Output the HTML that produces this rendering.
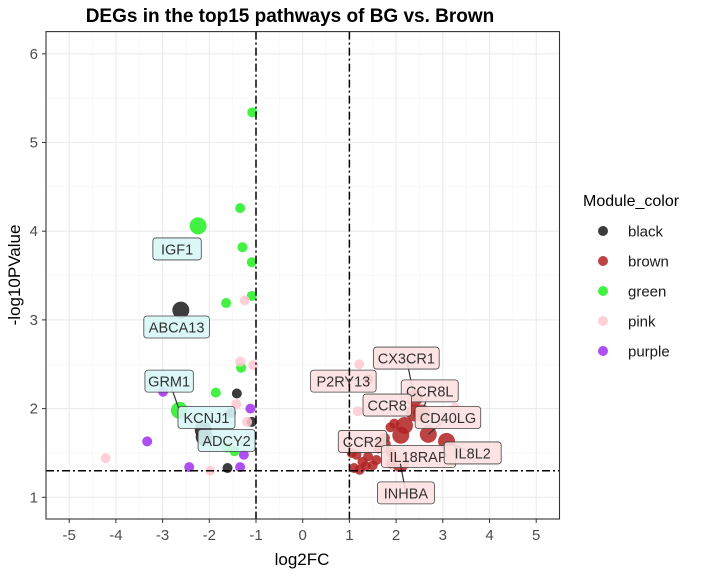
<!DOCTYPE html>
<html><head><meta charset="utf-8"><style>
body{margin:0;background:#fff;font-family:"Liberation Sans",sans-serif}
</style></head><body>
<svg id="c" width="714" height="571" xmlns="http://www.w3.org/2000/svg" font-family="Liberation Sans, sans-serif">
<text x="290" y="22" text-anchor="middle" font-size="19" font-weight="bold" fill="#000">DEGs in the top15 pathways of BG vs. Brown</text>
<g id="grid"></g><g id="pts"></g><g id="labs"></g><g id="axes"></g>
<text x="302" y="565" text-anchor="middle" font-size="17" fill="#000">log2FC</text>
<text transform="translate(20,275) rotate(-90)" text-anchor="middle" font-size="17" fill="#000">-log10PValue</text>
<g id="legend"></g>
</svg>
<script>
const xTicks=[-5,-4,-3,-2,-1,0,1,2,3,4,5];
const yTicks=[1,2,3,4,5,6];
const ptColors=["black","black","black","black","black","black","black","brown","brown","brown","brown","brown","brown","brown","brown","brown","brown","brown","brown","brown","brown","brown","brown","brown","brown","brown","brown","brown","brown","brown","brown","brown","brown","green","green","green","green","green","green","green","green","green","green","green","green","pink","pink","pink","pink","pink","pink","pink","pink","pink","pink","pink","pink","purple","purple","purple","purple","purple","purple"];
const ptX=[-2.61,-2.13,-2.11,-1.41,-1.54,-1.09,-1.61,1.40,2.39,2.40,2.55,2.18,1.88,1.96,2.10,2.69,3.08,1.66,1.78,1.89,2.09,1.88,1.05,1.15,1.28,1.40,1.50,1.58,1.10,1.22,1.35,1.76,1.62,-1.08,-1.34,-2.24,-1.29,-1.09,-1.09,-1.64,-1.32,-1.86,-2.64,-1.46,-1.63,-1.24,-1.34,-1.06,-1.42,-1.19,-1.13,-4.22,-1.98,1.21,3.26,1.18,2.10,-1.12,-3.33,-2.43,-1.34,-2.99,-1.26];
const ptY=[3.11,1.76,1.68,2.17,1.95,1.85,1.33,2.33,2.12,1.95,1.95,1.81,1.79,1.83,1.70,1.71,1.63,1.63,1.60,1.50,1.38,1.38,1.50,1.48,1.40,1.46,1.36,1.42,1.33,1.31,1.35,1.67,1.55,5.34,4.26,4.06,3.82,3.65,3.27,3.19,2.46,2.18,1.98,1.52,1.56,3.22,2.53,2.49,2.05,1.85,1.68,1.44,1.30,2.50,2.01,1.97,1.42,2.00,1.63,1.34,1.34,2.19,1.48];
const ptBig=[1,1,1,0,0,0,0,0,1,1,1,1,0,0,1,1,1,0,0,0,1,0,0,0,0,0,0,0,0,0,0,0,0,0,0,1,0,0,0,0,0,0,1,0,0,0,0,0,0,0,0,0,0,0,0,0,0,0,0,0,0,0,0];
const colorMap={black:"#1a1a1a",brown:"#b22222",green:"#22ee22",pink:"#ffc8d0",purple:"#a030f0"};
const legendItems=["black","brown","green","pink","purple"];
const labNames=["IGF1","ABCA13","GRM1","KCNJ1","ADCY2","CX3CR1","P2RY13","CCR8L","CCR8","CD40LG","CCR2","IL18RAP","IL8L2","INHBA"];
const labX=[-2.69,-2.70,-2.86,-2.06,-1.63,2.22,0.87,2.72,1.81,3.11,1.28,2.48,3.64,2.21];
const labY=[3.80,2.92,2.31,1.90,1.64,2.57,2.31,2.20,2.04,1.90,1.63,1.46,1.50,1.05];
const labSide=["l","l","l","l","l","r","r","r","r","r","r","r","r","r"];
const labLinkX=[null,null,-2.64,-2.13,null,2.39,1.40,2.55,null,2.69,1.76,null,3.08,2.09];
const labLinkY=[null,null,1.98,1.76,null,2.12,2.33,1.95,null,1.71,1.67,null,1.63,1.38];

const L=46,R=559.5,T=31.6,B=519;
const X=v=>302.7+46.7*v, Y=v=>497.3-88.7*(v-1);
const NS="http://www.w3.org/2000/svg";
function mk(tag,attrs,parent){const e=document.createElementNS(NS,tag);for(const k in attrs)e.setAttribute(k,attrs[k]);parent.appendChild(e);return e;}
const g=document.getElementById('grid');
mk('rect',{x:L,y:T,width:R-L,height:B-T,fill:'#fff'},g);
for(let v=-5.5;v<=5.5;v+=0.5){const major=Number.isInteger(v);mk('line',{x1:X(v),x2:X(v),y1:T,y2:B,stroke:major?'#ebebeb':'#f5f5f5','stroke-width':major?1.1:0.6},g);}
for(let v=1;v<=6.25;v+=0.5){const major=Number.isInteger(v);mk('line',{x1:L,x2:R,y1:Y(v),y2:Y(v),stroke:major?'#ebebeb':'#f5f5f5','stroke-width':major?1.1:0.6},g);}
const pg=document.getElementById('pts');
for(let i=0;i<ptX.length;i++){
 const c=mk('circle',{cx:X(ptX[i]),cy:Y(ptY[i]),r:ptBig[i]?8.5:5,fill:colorMap[ptColors[i]],'fill-opacity':0.85},pg);
 
 
}
const ax=document.getElementById('axes');
mk('line',{x1:X(-1),x2:X(-1),y1:T,y2:B,stroke:'#000','stroke-width':1.5,'stroke-dasharray':'8 3 2 3'},ax);
mk('line',{x1:X(1),x2:X(1),y1:T,y2:B,stroke:'#000','stroke-width':1.5,'stroke-dasharray':'8 3 2 3'},ax);
mk('line',{x1:L,x2:R,y1:Y(1.3),y2:Y(1.3),stroke:'#000','stroke-width':1.5,'stroke-dasharray':'8 3 2 3'},ax);
mk('rect',{x:L,y:T,width:R-L,height:B-T,fill:'none',stroke:'#333','stroke-width':1.1},ax);
xTicks.forEach(v=>{mk('line',{x1:X(v),x2:X(v),y1:B,y2:B+4,stroke:'#333'},ax);const t=mk('text',{x:X(v),y:B+21,'text-anchor':'middle','font-size':15,fill:'#4d4d4d'},ax);t.textContent=v;});
yTicks.forEach(v=>{mk('line',{x1:L-4,x2:L,y1:Y(v),y2:Y(v),stroke:'#333'},ax);const t=mk('text',{x:L-8,y:Y(v)+5,'text-anchor':'end','font-size':15,fill:'#4d4d4d'},ax);t.textContent=v;});
const lg=document.getElementById('labs');
labNames.forEach((n,i)=>{
 const cx=X(labX[i]),cy=Y(labY[i]);
 const w=n.length*8.6+14,h=22;
 if(labLinkX[i]!==null){mk('line',{x1:cx,y1:cy,x2:X(labLinkX[i]),y2:Y(labLinkY[i]),stroke:'#333','stroke-width':1.2},lg);}
 const r=mk('rect',{x:cx-w/2,y:cy-h/2,width:w,height:h,rx:3,fill:labSide[i]==='l'?'#d8f6f6':'#fde0e0','fill-opacity':0.9,stroke:'#444','stroke-width':0.8},lg);
 
 
 const t=mk('text',{x:cx,y:cy+5.5,'text-anchor':'middle','font-size':14.5,fill:'#333'},lg);t.textContent=n;
 
 
});
const leg=document.getElementById('legend');
const lt=mk('text',{x:583,y:206,'font-size':16,fill:'#000'},leg);lt.textContent='Module_color';


legendItems.forEach((k,i)=>{const y=231+30*i;
 const c=mk('circle',{cx:603,cy:y,r:5,fill:colorMap[k],'fill-opacity':0.85},leg);
 
 
 const t=mk('text',{x:628,y:y+5.5,'font-size':15,fill:'#1a1a1a'},leg);t.textContent=k;
 
 
});
</script>
</body></html>
